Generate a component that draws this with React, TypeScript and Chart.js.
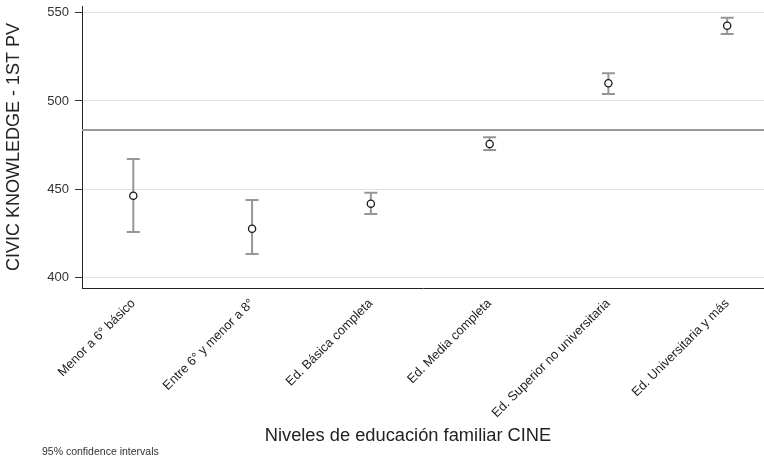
import React, { useEffect, useRef } from "react";
import { Chart, registerables } from "chart.js";

Chart.register(...registerables);

const categories: string[] = [
  "Menor a 6° básico",
  "Entre 6° y menor a 8°",
  "Ed. Básica completa",
  "Ed. Media completa",
  "Ed. Superior no universitaria",
  "Ed. Universitaria y más",
];
const means: number[] = [446.3, 427.6, 441.8, 475.6, 510.0, 542.6];
const lowerCI: number[] = [425.8, 413.3, 436.0, 472.2, 504.0, 537.9];
const upperCI: number[] = [467.1, 443.9, 448.0, 479.4, 515.7, 547.2];
const referenceValue = 483.6;
const yTicks: number[] = [400, 450, 500, 550];

const Y_TITLE = "CIVIC KNOWLEDGE - 1ST PV";
const X_TITLE = "Niveles de educación familiar CINE";
const FOOTNOTE = "95% confidence intervals";

const FONT = "'Liberation Sans', Arial, Helvetica, sans-serif";
const X_MIN = 0.568;
const X_MAX = 6.31;

const errorBarPlugin = {
  id: "errorBars",
  beforeDatasetsDraw(chart: any) {
    const ctx = chart.ctx;
    const xs = chart.scales.x;
    const ys = chart.scales.y;
    ctx.save();
    ctx.strokeStyle = "#969696";
    ctx.lineWidth = 2;
    const cap = 6.5;
    categories.forEach((_, i) => {
      const x = xs.getPixelForValue(i + 1);
      const yLo = ys.getPixelForValue(lowerCI[i]);
      const yHi = ys.getPixelForValue(upperCI[i]);
      ctx.beginPath();
      ctx.moveTo(x, yLo);
      ctx.lineTo(x, yHi);
      ctx.moveTo(x - cap, yLo);
      ctx.lineTo(x + cap, yLo);
      ctx.moveTo(x - cap, yHi);
      ctx.lineTo(x + cap, yHi);
      ctx.stroke();
    });
    ctx.restore();
  },
};

const textPlugin = {
  id: "extraText",
  afterDraw(chart: any) {
    const ctx = chart.ctx;
    ctx.save();
    ctx.fillStyle = "#222";
    ctx.font = `18.3px ${FONT}`;
    ctx.textAlign = "center";
    ctx.textBaseline = "middle";
    ctx.fillText(X_TITLE, 408, 436);
    ctx.fillStyle = "#333";
    ctx.font = `10.5px ${FONT}`;
    ctx.textAlign = "left";
    ctx.fillText(FOOTNOTE, 42, 452);
    ctx.restore();
  },
};

export default function App() {
  const canvasRef = useRef<HTMLCanvasElement | null>(null);

  useEffect(() => {
    if (!canvasRef.current) return;
    const chart = new Chart(canvasRef.current, {
      type: "scatter",
      data: {
        datasets: [
          {
            type: "line",
            data: [
              { x: X_MIN, y: referenceValue },
              { x: X_MAX, y: referenceValue },
            ],
            borderColor: "#9a9a9a",
            borderWidth: 2,
            pointRadius: 0,
            fill: false,
          } as any,
          {
            data: means.map((m, i) => ({ x: i + 1, y: m })),
            pointRadius: 3.6,
            pointBackgroundColor: "#ffffff",
            pointBorderColor: "#1a1a1a",
            pointBorderWidth: 1.3,
            showLine: false,
          },
        ],
      },
      options: {
        responsive: false,
        animation: false,
        layout: { padding: { top: 6, left: 0, right: 0, bottom: 0 }, autoPadding: false } as any,
        plugins: {
          legend: { display: false },
          tooltip: { enabled: false },
        },
        scales: {
          x: {
            type: "linear",
            position: "bottom",
            min: X_MIN,
            max: X_MAX,
            afterBuildTicks: (s: any) => {
              s.ticks = categories.map((_, i) => ({ value: i + 1 }));
            },
            afterFit: (s: any) => {
              s.height = 174;
              s.paddingLeft = 0;
              s.paddingRight = 0;
            },
            grid: { display: false },
            border: { display: true, color: "#222", width: 1 },
            ticks: {
              autoSkip: false,
              minRotation: 45,
              maxRotation: 45,
              padding: 0,
              color: "#222",
              font: { family: FONT, size: 12.8 },
              callback: (v: any) => categories[Math.round(Number(v)) - 1] ?? "",
            },
          },
          y: {
            type: "linear",
            position: "left",
            min: 394,
            max: 553.8,
            afterBuildTicks: (s: any) => {
              s.ticks = yTicks.map((v) => ({ value: v }));
            },
            afterFit: (s: any) => {
              s.width = 82;
              s.paddingTop = 0;
              s.paddingBottom = 0;
            },
            grid: {
              color: "#e2e2e2",
              lineWidth: 1,
              tickColor: "#333",
              tickLength: 7,
            },
            border: { display: true, color: "#222", width: 1 },
            ticks: {
              padding: 6,
              color: "#333",
              font: { family: FONT, size: 13 },
            },
            title: {
              display: true,
              text: Y_TITLE,
              color: "#222",
              font: { family: FONT, size: 18 },
              padding: { top: 3, bottom: 0 },
            },
          },
        },
      },
      plugins: [errorBarPlugin, textPlugin],
    });
    return () => chart.destroy();
  }, []);

  return (
    <div style={{ position: "absolute", left: 0, top: 0, width: 764, height: 462, background: "#fff" }}>
      <canvas ref={canvasRef} width={764} height={462} />
    </div>
  );
}
